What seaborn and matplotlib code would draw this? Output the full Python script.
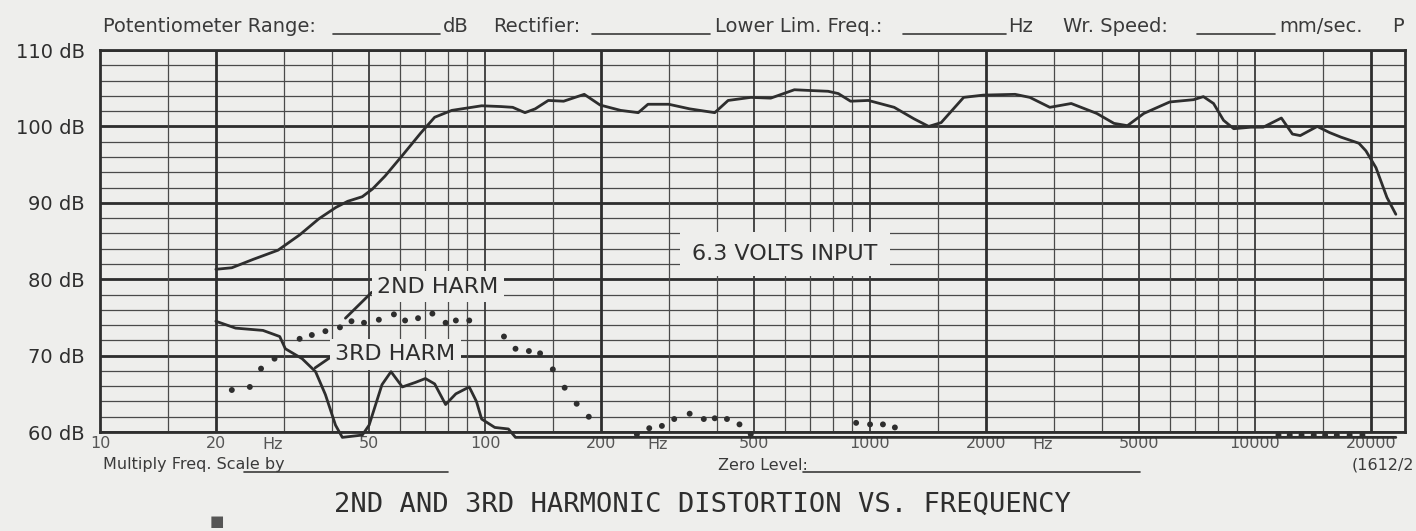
import numpy as np
import pandas as pd
import matplotlib.pyplot as plt
from matplotlib.lines import Line2D
from matplotlib.transforms import blended_transform_factory
import seaborn as sns

# frequency response (solid, upper)
resp_hz = [20, 22, 25, 29, 33, 37, 41, 44, 48, 51, 55, 61, 68, 74, 82, 98,
           110, 118, 127, 135, 146, 160, 181, 199, 225, 250, 265, 300, 340,
           395, 428, 490, 552, 636, 700, 778, 827, 890, 990, 1155, 1300, 1420,
           1530, 1750, 1970, 2380, 2600, 2930, 3330, 3880, 4300, 4660, 5140,
           6000, 6920, 7340, 7800, 8280, 8800, 9750, 10500, 11700, 12500,
           13100, 14500, 15600, 16700, 18600, 19400, 20600, 22000, 23200]
resp_db = [81.3, 81.5, 82.6, 83.8, 85.8, 87.9, 89.4, 90.2, 90.8, 91.8, 93.5,
           96.2, 99.1, 101.2, 102.1, 102.7, 102.6, 102.5, 101.8, 102.3, 103.4,
           103.3, 104.2, 102.8, 102.1, 101.8, 102.9, 102.9, 102.3, 101.8,
           103.4, 103.8, 103.7, 104.8, 104.7, 104.6, 104.3, 103.3, 103.4,
           102.5, 101.0, 100.0, 100.5, 103.8, 104.1, 104.2, 103.8, 102.5,
           103.0, 101.7, 100.4, 100.1, 101.7, 103.2, 103.5, 103.9, 103.0,
           100.8, 99.7, 99.9, 99.9, 101.1, 99.0, 98.8, 100.0, 99.2, 98.6,
           97.8, 96.8, 94.6, 90.7, 88.5]

# 3rd harmonic (solid, lower)
h3_hz = [20, 22.5, 26.5, 29.3, 30.3, 33.5, 36.3, 38.5, 40.9, 42.6, 48, 50,
         54, 57, 61, 66, 70, 74, 79, 84, 91, 95, 98, 106, 115, 120, 23200]
h3_db = [74.5, 73.6, 73.3, 72.5, 70.9, 69.6, 67.9, 64.9, 60.9, 59.3, 59.6,
         60.9, 66.2, 67.9, 65.9, 66.5, 67.0, 66.3, 63.6, 65.0, 65.9, 64.0,
         61.7, 60.6, 60.4, 59.3, 59.3]

# 2nd harmonic (dotted)
h2_hz = [22, 24.5, 26.2, 28.4, 33, 35.5, 38.5, 42, 45, 48.5, 53, 58, 62, 67,
         73, 79, 84, 91, 112, 120, 130, 139, 150, 161, 173, 186, 248, 267,
         288, 310, 340, 370, 395, 425, 458, 490, 920, 1000, 1080, 1160,
         11500, 12300, 13200, 14200, 15200, 16300, 17600, 19000]
h2_db = [65.5, 65.9, 68.3, 69.6, 72.2, 72.7, 73.2, 73.7, 74.5, 74.3, 74.7,
         75.4, 74.6, 74.9, 75.5, 74.3, 74.6, 74.6, 72.5, 70.9, 70.6, 70.3,
         68.2, 65.8, 63.7, 62.0, 59.7, 60.5, 60.8, 61.7, 62.4, 61.7, 61.8,
         61.7, 61.0, 59.7, 61.2, 61.0, 61.0, 60.6, 59.6, 59.6, 59.6, 59.6,
         59.6, 59.6, 59.6, 59.6]

# chart paper grid
grid_thick = [20, 200, 2000, 20000]
grid_mid = [50, 100, 500, 1000, 5000, 10000]
grid_thin = [15, 30, 40, 60, 70, 80, 90, 150, 300, 400, 600, 700, 800, 900,
             1500, 3000, 4000, 6000, 7000, 8000, 9000, 15000]
freq_ticks = [10, 20, 50, 100, 200, 500, 1000, 2000, 5000, 10000, 20000]
hz_marks = [28, 280, 2800]
db_ticks = [60, 70, 80, 90, 100, 110]

paper = '#eeeeec'
ink = '#2e2e2e'
grey = '#3a3a3a'

sns.set_theme(style='white')
plt.rcParams['font.family'] = ['DejaVu Sans']

fig = plt.figure(figsize=(14.16, 5.31), dpi=100, facecolor=paper)
ax = fig.add_axes([0.0706, 0.1864, 0.9216, 0.7194], facecolor=paper)
ax.set_xscale('log')
ax.set_xlim(10.2, 24500)
ax.set_ylim(60, 110)

# grid of the recorder paper
for v in np.arange(62, 110, 2):
    ax.axhline(v, color='#4a4a4a', lw=0.9, zorder=1)
for v in db_ticks:
    ax.axhline(v, color=ink, lw=2.0, zorder=1)
for v in grid_thin:
    ax.axvline(v, color='#4a4a4a', lw=0.9, zorder=1)
for v in grid_mid:
    ax.axvline(v, color='#3a3a3a', lw=1.3, zorder=1)
for v in grid_thick:
    ax.axvline(v, color=ink, lw=2.0, zorder=1)
for s in ax.spines.values():
    s.set_color(ink)
    s.set_linewidth(2.0)

resp = pd.DataFrame({'hz': resp_hz, 'db': resp_db})
h3 = pd.DataFrame({'hz': h3_hz, 'db': h3_db})
h2 = pd.DataFrame({'hz': h2_hz, 'db': h2_db})

sns.lineplot(data=resp, x='hz', y='db', ax=ax, color=ink, lw=2.0,
             sort=False, estimator=None, zorder=4)
sns.lineplot(data=h3, x='hz', y='db', ax=ax, color=ink, lw=2.0,
             sort=False, estimator=None, zorder=4, clip_on=False)
sns.scatterplot(data=h2, x='hz', y='db', ax=ax, color=ink, s=18,
                edgecolor='none', zorder=4, clip_on=False)

# labels written on the chart
box = dict(facecolor=paper, edgecolor='none', pad=4)
leader = dict(arrowstyle='-', color=ink, lw=2.0, shrinkA=0, shrinkB=0,
              relpos=(0, 0.5))
ax.annotate('2ND HARM', xy=(43.4, 74.9), xytext=(52.5, 79.0),
            fontsize=16, color=ink, ha='left', va='center', zorder=3,
            bbox=box, arrowprops=leader)
ax.annotate('3RD HARM', xy=(36.2, 68.4), xytext=(40.8, 70.2),
            fontsize=16, color=ink, ha='left', va='center', zorder=3,
            bbox=box, arrowprops=leader)
ax.text(600, 83.3, '6.3 VOLTS INPUT', fontsize=16, color=ink, ha='center',
        va='center', zorder=3,
        bbox=dict(facecolor=paper, edgecolor='none', pad=9))

# axes labels
ax.set_xticks(freq_ticks)
ax.set_xticklabels([str(v) for v in freq_ticks])
ax.xaxis.set_minor_locator(plt.NullLocator())
ax.tick_params(axis='x', length=0, pad=3, labelsize=11.5,
               labelcolor='#555555')
ax.set_yticks(db_ticks)
ax.set_yticklabels([f'{v} dB' for v in db_ticks])
ax.tick_params(axis='y', length=0, pad=11, labelsize=14, labelcolor=ink)
ax.set_xlabel('')
ax.set_ylabel('')
tr = blended_transform_factory(ax.transData, ax.transAxes)
for v in hz_marks:
    ax.text(v, -0.014, 'Hz', transform=tr, fontsize=11.5, color='#555555',
            ha='center', va='top')

# header of the recorder paper
hy = 1 - 27 / 531
head = [(103, 'Potentiometer Range:'), (443, 'dB'), (493, 'Rectifier:'),
        (715, 'Lower Lim. Freq.:'), (1008, 'Hz'), (1063, 'Wr. Speed:'),
        (1279, 'mm/sec.'), (1392, 'P')]
for x, t in head:
    fig.text(x / 1416, hy, t, fontsize=14, color=grey, ha='left',
             va='center')
uy = 1 - 34 / 531
for x0, x1 in [(333, 440), (592, 710), (903, 1006), (1197, 1275)]:
    fig.add_artist(Line2D([x0 / 1416, x1 / 1416], [uy, uy], color=grey,
                          lw=1.2))

# footer
fy = 1 - 465 / 531
fig.text(103 / 1416, fy, 'Multiply Freq. Scale by', fontsize=11.5,
         color=grey, ha='left', va='center')
fig.text(718 / 1416, fy, 'Zero Level:', fontsize=11.5, color=grey,
         ha='left', va='center')
fig.text(1414 / 1416, fy, '(1612/2', fontsize=11.5, color=grey,
         ha='right', va='center')
ly = 1 - 472 / 531
for x0, x1 in [(244, 448), (803, 1140)]:
    fig.add_artist(Line2D([x0 / 1416, x1 / 1416], [ly, ly], color=grey,
                          lw=1.2))

fig.text(702 / 1416, 1 - 505 / 531,
         '2ND AND 3RD HARMONIC DISTORTION VS. FREQUENCY',
         family='DejaVu Sans Mono', fontsize=19.5, color=ink, ha='center',
         va='center')
fig.text(217 / 1416, 1 - 521 / 531, '■', fontsize=11, color='#555555',
         ha='center', va='center')

fig.savefig('out.png', dpi=100, facecolor=paper)
